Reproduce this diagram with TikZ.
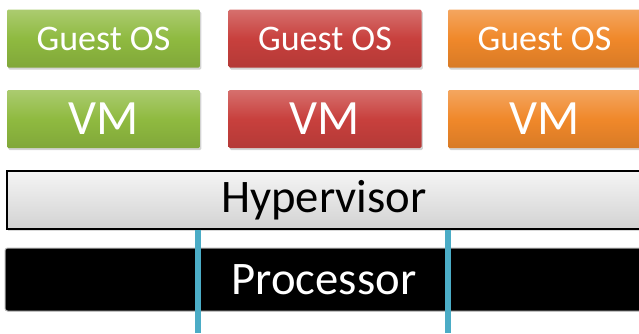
\documentclass[tikz,border=0pt]{standalone}
\usepackage{fontspec}
\setmainfont{Carlito}
\usetikzlibrary{shadows}

\definecolor{vmgreen}{RGB}{143,186,64}
\definecolor{vmred}{RGB}{200,64,61}
\definecolor{vmorange}{RGB}{240,136,42}
\definecolor{busblue}{RGB}{75,172,198}

\tikzset{every picture/.style={line width=0.75pt}}
\tikzset{
  layerbox/.style={rectangle, rounded corners=1pt, minimum width=144.75pt, minimum height=43.5pt,
    inner sep=0pt, text=white, drop shadow={opacity=0.35, shadow xshift=1pt, shadow yshift=-1.5pt}},
  guestbox/.style={layerbox, font=\fontsize{27}{27}\selectfont},
  vmbox/.style={layerbox, font=\fontsize{37}{37}\selectfont},
  boxcol/.style={top color=#1!75!white, bottom color=#1!90!black, middle color=#1},
  hyperbox/.style={rectangle, draw=black, line width=1pt, minimum width=475.5pt, minimum height=43.5pt,
    inner sep=0pt, top color=gray!8, bottom color=gray!35,
    font=\fontsize{35}{35}\selectfont, drop shadow={opacity=0.3, shadow xshift=1pt, shadow yshift=-1.5pt}},
  cpubox/.style={rectangle, rounded corners=2pt, fill=black, draw=gray!60, minimum width=478.5pt,
    minimum height=47.25pt, inner sep=0pt, text=white, font=\fontsize{35}{35}\selectfont},
  bus/.style={draw=busblue, line width=4.5pt}
}

\begin{document}
\begin{tikzpicture}[x=0.75pt,y=0.75pt,yscale=-1,xscale=1]
	\useasboundingbox (0,0) rectangle (639,333);
	\clip (0,0) rectangle (639,333);

	% guest operating systems
	\node[guestbox, boxcol=vmgreen]  (os1) at (103.5,38.5) {Guest OS};
	\node[guestbox, boxcol=vmred]    (os2) at (325,38.5) {Guest OS};
	\node[guestbox, boxcol=vmorange] (os3) at (544.5,38.5) {Guest OS};

	% virtual machines
	\node[vmbox, boxcol=vmgreen]  (vm1) at (103.5,119) {VM};
	\node[vmbox, boxcol=vmred]    (vm2) at (325,119) {VM};
	\node[vmbox, boxcol=vmorange] (vm3) at (544.5,119) {VM};

	% hypervisor and hardware
	\node[hyperbox] (hyp) at (324,200) {Hypervisor};
	\node[cpubox]   (cpu) at (324,279.5) {Processor};

	% bus lines through the processor
	\coordinate (b1) at (198,333);
	\coordinate (b2) at (448,333);
	\draw[bus] (hyp.south -| b1) -- (b1);
	\draw[bus] (hyp.south -| b2) -- (b2);

\end{tikzpicture}
\end{document}
